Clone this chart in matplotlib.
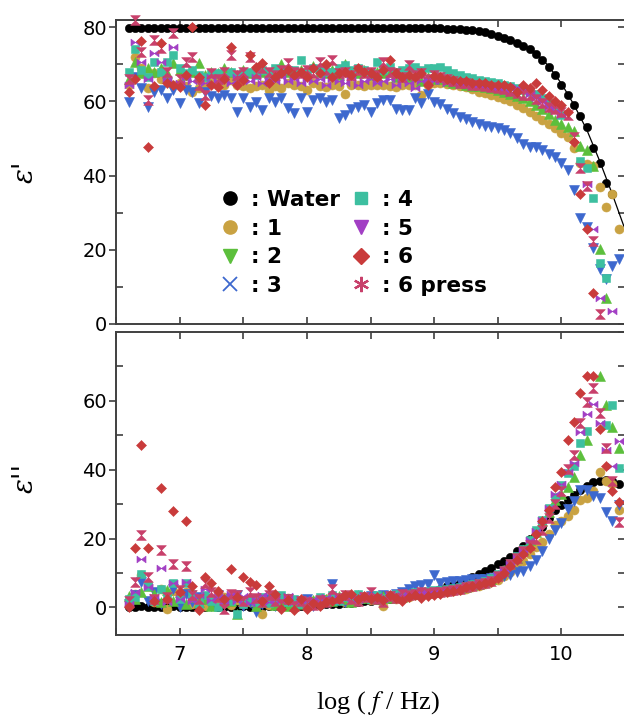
import numpy as np
import matplotlib
matplotlib.use("Agg")
import matplotlib.pyplot as plt
from matplotlib.lines import Line2D
from matplotlib.path import Path

plt.rcParams["font.family"] = ["DejaVu Sans"]
plt.rcParams["mathtext.fontset"] = "stix"

nan = np.nan

# ---------------------------------------------------------
# data, log f grid shared by all samples
# ---------------------------------------------------------
log_f = [6.60, 6.65, 6.70, 6.75, 6.80, 6.85, 6.90, 6.95, 7.00, 7.05,
         7.10, 7.15, 7.20, 7.25, 7.30, 7.35, 7.40, 7.45, 7.50, 7.55,
         7.60, 7.65, 7.70, 7.75, 7.80, 7.85, 7.90, 7.95, 8.00, 8.05,
         8.10, 8.15, 8.20, 8.25, 8.30, 8.35, 8.40, 8.45, 8.50, 8.55,
         8.60, 8.65, 8.70, 8.75, 8.80, 8.85, 8.90, 8.95, 9.00, 9.05,
         9.10, 9.15, 9.20, 9.25, 9.30, 9.35, 9.40, 9.45, 9.50, 9.55,
         9.60, 9.65, 9.70, 9.75, 9.80, 9.85, 9.90, 9.95, 10.00, 10.05,
         10.10, 10.15, 10.20, 10.25, 10.30, 10.35, 10.40, 10.45]

# eps' (top panel)
eps1_water = [79.8, 79.7, 79.8, 79.8, 79.7, 79.8, 79.8, 79.7, 79.8, 79.8,
              79.7, 79.8, 79.8, 79.7, 79.8, 79.8, 79.7, 79.8, 79.8, 79.7,
              79.8, 79.8, 79.7, 79.8, 79.8, 79.7, 79.8, 79.8, 79.7, 79.8,
              79.8, 79.7, 79.8, 79.8, 79.7, 79.8, 79.8, 79.7, 79.8, 79.8,
              79.7, 79.8, 79.8, 79.7, 79.8, 79.7, 79.7, 79.7, 79.7, 79.7,
              79.6, 79.5, 79.4, 79.3, 79.1, 78.9, 78.6, 78.2, 77.7, 77.1,
              76.5, 75.8, 75.0, 74.0, 72.8, 71.2, 69.3, 67.0, 64.3, 61.6,
              59.0, 56.0, 53.0, 47.3, 43.3, 38.0, 35.0, nan]
eps1_s1 = [64.5, 72.0, 69.0, 63.5, 67.5, 66.0, 65.7, 64.5, 65.0, 64.0,
           62.4, 63.5, 64.5, 65.0, 65.7, 64.5, 65.7, 64.5, 64.0, 63.5,
           64.0, 64.3, 63.0, 64.0, 63.5, 64.9, 64.3, 64.0, 63.0, 65.0,
           64.0, 63.8, 64.5, 64.0, 61.9, 64.3, 64.5, 64.0, 64.3, 64.5,
           64.3, 64.0, 63.8, 64.5, 64.3, 64.3, 61.6, 64.5, 64.9, 64.9,
           64.7, 64.4, 64.1, 63.8, 63.2, 62.6, 62.2, 61.8, 61.2, 60.6,
           60.1, 59.0, 58.2, 57.2, 56.0, 54.9, 53.8, 52.8, 51.4, 50.3,
           47.3, 43.5, 43.0, 42.7, 36.8, 31.4, 35.0, 25.7]
eps1_s2 = [66.0, 70.5, 67.5, 69.0, 68.0, 69.0, 67.5, 70.3, 68.5, 67.0,
           68.0, 70.3, 67.0, 68.0, 67.5, 69.0, 68.0, 67.0, 68.5, 67.5,
           69.0, 68.0, 67.5, 68.5, 70.0, 68.0, 67.5, 68.5, 68.0, 69.5,
           68.0, 67.5, 68.5, 67.0, 70.0, 68.0, 67.5, 68.5, 67.0, 68.0,
           67.5, 68.0, 66.5, 67.5, 66.5, 67.0, 65.5, 66.5, 66.0, 66.0,
           65.5, 65.0, 64.8, 64.5, 64.2, 64.0, 63.8, 63.5, 63.0, 62.6,
           62.0, 61.5, 60.8, 60.0, 59.0, 57.8, 56.5, 55.0, 54.0, 53.0,
           52.0, 48.0, 46.8, 42.7, 20.3, 7.0, nan, nan]
eps1_s3 = [59.7, 66.5, 63.5, 58.4, 62.4, 63.0, 60.8, 63.0, 59.5, 63.0,
           62.4, 59.5, 62.4, 61.5, 61.0, 61.6, 61.0, 57.0, 60.8, 58.4,
           59.7, 57.6, 60.8, 59.7, 60.8, 58.2, 56.8, 61.0, 57.0, 60.3,
           60.8, 59.7, 60.3, 55.4, 56.2, 58.0, 58.4, 59.0, 57.0, 59.5,
           60.3, 60.3, 58.0, 57.6, 57.6, 60.8, 59.5, 62.0, 59.7, 59.2,
           58.0, 56.9, 55.9, 55.2, 54.5, 53.8, 53.3, 53.0, 52.7, 52.2,
           51.4, 50.0, 48.6, 47.6, 47.6, 46.8, 45.9, 44.9, 43.5, 41.5,
           36.0, 28.6, 26.0, 20.5, 14.9, 12.2, 15.7, 17.6]
eps1_s4 = [68.0, 74.0, 68.5, 66.5, 70.5, 68.0, 70.5, 72.4, 69.0, 67.5,
           68.4, 67.0, 66.5, 67.5, 67.5, 66.5, 67.8, 67.0, 67.5, 68.0,
           67.0, 68.5, 67.5, 69.0, 68.0, 68.5, 68.5, 71.0, 68.0, 69.0,
           68.5, 68.0, 68.0, 69.0, 69.7, 68.5, 69.0, 68.5, 68.0, 70.5,
           68.5, 69.2, 68.0, 68.5, 69.0, 69.2, 68.5, 69.0, 69.0, 69.2,
           68.4, 67.6, 67.0, 66.6, 66.2, 65.8, 65.5, 65.2, 64.8, 64.4,
           64.0, 63.5, 63.0, 62.4, 62.0, 60.8, 59.5, 58.0, 56.2, nan,
           nan, 44.0, 42.0, 34.0, 16.5, 12.4, nan, nan]
eps1_s5 = [64.3, 76.0, 70.5, 66.0, 73.0, 70.5, 66.0, 74.6, 65.0, 66.5,
           65.5, 66.0, 65.0, 66.5, 65.5, 66.0, 65.0, 66.5, 66.0, 65.5,
           66.5, 65.0, 66.0, 65.5, 66.5, 65.5, 66.0, 65.0, 66.0, 65.5,
           66.0, 64.5, 66.0, 65.5, 65.0, 66.0, 64.5, 65.5, 66.0, 65.0,
           65.5, 66.0, 64.5, 65.5, 65.0, 63.5, 65.5, 66.0, 65.5, 65.5,
           65.0, 64.8, 64.5, 64.3, 64.0, 63.8, 63.8, 63.5, 63.2, 62.8,
           62.3, 63.8, 63.0, 62.0, 61.0, 59.7, 58.5, 57.5, 56.2, nan,
           nan, nan, 37.8, 25.7, 7.0, nan, 3.5, nan]
eps1_s6 = [62.4, 66.0, 76.2, 47.6, 64.0, 75.6, 65.0, 64.3, 63.8, 67.0,
           80.0, 66.5, 59.0, 64.3, 63.8, 66.0, 74.6, 64.3, 65.7, 72.4,
           69.2, 70.3, 65.0, 66.5, 67.5, 68.5, 67.0, 68.0, 66.5, 69.0,
           67.5, 70.0, 66.5, 67.5, 68.0, 67.0, 69.0, 68.0, 67.5, 66.5,
           68.5, 71.0, 67.5, 66.5, 67.0, 66.5, 67.5, 64.3, 66.8, 66.5,
           66.0, 65.8, 65.5, 65.5, 65.0, 65.0, 65.0, 64.5, 64.5, 64.3,
           63.8, 62.5, 64.3, 63.5, 65.0, 63.0, 61.5, 60.0, 59.0, 57.0,
           49.0, 35.0, 25.7, 8.4, nan, nan, nan, nan]
eps1_s6p = [66.0, 82.0, 73.2, 60.3, 76.5, 74.3, 68.0, 78.4, 66.0, 70.5,
            72.0, 64.3, 61.6, 67.6, 66.0, 68.0, 72.4, 67.0, 68.0, 72.0,
            67.5, 69.0, 68.0, 67.0, 68.5, 70.3, 68.0, 67.5, 68.5, 67.5,
            70.5, 68.5, 71.0, 67.5, 68.0, 67.0, 68.5, 67.5, 68.0, 67.0,
            70.5, 68.0, 67.5, 66.5, 69.7, 67.0, 67.5, 66.0, 67.0, 66.5,
            66.0, 65.5, 65.0, 64.8, 64.5, 64.3, 64.0, 63.8, 63.5, 63.2,
            62.8, 62.3, 61.8, 61.6, 60.5, 59.5, 58.5, 57.8, 57.0, 56.2,
            50.3, 42.0, 37.3, 22.4, 2.7, nan, nan, nan]

# Debye fit for water (only the tail is visible)
fit_logf = [6.6, 8.5, 9.0, 9.3, 9.5, 9.7, 9.8, 9.9, 10.0, 10.1, 10.2, 10.3, 10.4, 10.5]
fit_eps1 = [79.8, 79.8, 79.6, 79.0, 77.9, 75.3, 73.0, 69.5, 64.8, 59.0, 52.3, 44.0, 35.0, 25.5]

# eps'' (bottom panel)
eps2_water = [0.2, 0.0, 0.3, 0.1, 0.0, 0.2, 0.1, 0.3, 0.0, 0.2,
              0.1, 0.2, 0.0, 0.3, 0.1, 0.2, 0.2, 0.1, 0.3, 0.2,
              0.3, 0.2, 0.4, 0.3, 0.4, 0.4, 0.5, 0.5, 0.6, 0.7,
              0.8, 0.9, 1.0, 1.1, 1.3, 1.4, 1.6, 1.8, 2.0, 2.1,
              2.3, 2.5, 2.7, 3.0, 3.3, 3.6, 3.9, 4.3, 4.8, 5.4,
              6.1, 6.6, 7.2, 8.0, 8.9, 9.7, 10.6, 11.5, 12.5, 13.6,
              14.6, 16.4, 17.8, 20.0, 21.8, 23.3, 26.0, 28.4, 29.7, 31.3,
              32.6, 34.0, 35.3, 36.3, 36.6, 37.0, 36.6, 35.8]
eps2_s1 = [2.0, 4.0, 9.5, 6.6, 1.5, 5.5, -0.5, 4.8, 2.0, 4.5,
           1.0, 2.5, 0.5, 2.0, 1.2, 3.0, 0.8, 2.2, 1.0, 1.5,
           1.5, -1.9, 0.8, 2.0, 1.2, 2.8, 1.0, 1.8, 0.8, 2.0,
           1.2, 2.5, 1.8, 2.5, 1.5, 3.0, 2.0, 2.8, 2.2, 3.0,
           0.5, 3.0, 2.5, 3.2, 3.0, 3.5, 3.8, 4.0, 4.2, 4.4,
           4.6, 4.9, 5.2, 5.5, 5.9, 6.3, 6.8, 7.3, 8.0, 9.0,
           10.2, 11.8, 13.5, 15.5, 17.5, 19.0, 21.2, 23.9, 25.2, 26.5,
           28.4, 31.3, 31.8, 33.7, 39.3, 36.6, 35.8, 28.4]
eps2_s2 = [3.2, 2.5, 4.5, 6.1, 4.0, 1.5, 5.0, 2.0, 4.5, 1.0,
           3.0, 1.5, 2.5, 0.5, 3.5, 1.5, 2.0, -1.9, 1.8, 3.0,
           0.5, 1.5, 2.5, 0.8, 1.8, 0.5, 2.0, 1.0, 1.5, 2.2,
           1.8, 2.5, 2.0, 3.2, 2.5, 1.5, 3.5, 2.8, 3.0, 2.5,
           3.2, 2.8, 3.5, 3.0, 3.8, 4.0, 4.2, 4.5, 4.6, 4.8,
           5.0, 5.3, 5.6, 6.0, 6.4, 6.9, 7.5, 8.2, 9.3, 10.8,
           12.5, 14.5, 16.8, 19.5, 22.0, 25.0, 27.8, 31.3, 33.0, 35.0,
           38.0, 44.3, 48.5, nan, 67.1, 58.9, 52.5, 46.4]
eps2_s3 = [1.0, 3.5, 7.4, 2.0, 4.5, 1.0, 3.0, 5.3, 0.0, 4.0,
           1.5, 3.0, 2.5, 0.5, 3.5, 1.5, 2.5, 3.5, 0.5, 1.5,
           -1.3, 1.0, 2.5, 0.5, 1.8, 2.5, 0.8, 1.5, 2.5, 0.5,
           1.8, 2.0, 6.8, 2.5, 1.5, 3.0, 2.2, 2.8, 3.2, 2.5,
           3.5, 3.2, 4.0, 4.5, 5.5, 6.2, 6.5, 6.8, 9.3, 7.2,
           7.4, 7.6, 7.8, 8.0, 8.2, 8.3, 8.4, 8.6, 8.8, 9.0,
           9.3, 10.2, 10.6, 11.9, 13.8, 16.4, 19.9, 22.5, 24.4, 28.6,
           31.0, 34.0, 34.0, 32.4, 31.8, 27.8, 25.2, 29.7]
eps2_s4 = [2.5, 3.0, 9.8, 6.1, 2.0, 5.3, 3.0, 7.2, 2.5, 7.2,
           4.0, 1.0, 3.5, 2.0, 0.0, 2.5, 2.0, -1.9, 1.0, 2.5,
           1.5, 3.0, 1.2, 2.0, 3.5, 1.5, 2.5, 1.0, 2.0, 1.5,
           3.0, 2.2, 3.5, 2.0, 3.0, 2.5, 4.0, 3.0, 2.5, 3.5,
           2.8, 3.2, 3.8, 3.5, 4.0, 4.5, 4.3, 4.8, 5.0, 5.1,
           5.3, 5.6, 5.9, 6.2, 6.7, 7.2, 7.8, 8.5, 9.6, 11.0,
           12.8, 14.8, 17.0, 19.5, 22.5, 25.5, 29.0, 32.0, 35.5, 39.0,
           41.1, 47.7, 51.2, nan, nan, 53.0, 58.9, 40.6]
eps2_s5 = [1.0, 4.5, 14.0, 5.8, 3.0, 11.4, 1.5, 7.2, 2.5, 7.4,
           2.0, 3.5, 5.5, 2.1, 3.0, 1.5, 4.0, 2.0, 3.2, 1.2,
           2.5, 3.5, 1.5, 2.8, 1.8, 3.2, 1.5, 2.5, 1.8, 2.5,
           1.8, 3.0, 2.2, 3.5, 2.5, 3.0, 2.2, 3.5, 2.8, 3.2,
           2.5, 3.8, 3.2, 3.5, 4.5, 4.0, 4.4, 4.6, 4.8, 5.0,
           5.2, 5.5, 5.8, 6.1, 6.5, 7.0, 7.5, 8.2, 9.3, 10.8,
           12.6, 14.6, 16.8, 19.5, 22.2, 25.5, 29.0, 33.0, 36.0, 39.3,
           41.9, 50.9, 56.2, 59.0, 53.6, 45.6, 41.1, 48.3]
eps2_s6 = [0.0, 17.2, 47.2, 17.2, 1.9, 34.7, 2.6, 28.0, 4.5, 25.0,
           6.1, -0.8, 8.8, 7.2, 4.8, 2.5, 11.1, 3.0, 8.8, 7.4,
           6.6, 2.0, 6.1, 4.0, -0.5, 2.1, -0.8, 2.6, -0.5, 1.3,
           0.5, 1.5, 2.0, 2.6, 3.5, 4.0, 2.5, 3.2, 2.4, 3.0,
           2.2, 3.5, 2.8, 2.0, 3.0, 3.6, 2.8, 3.2, 3.6, 4.0,
           4.5, 4.8, 5.2, 5.8, 6.2, 6.6, 7.0, 7.4, 8.5, 10.0,
           11.9, 13.8, 15.4, 17.2, 21.2, 25.2, 28.4, 35.0, 39.3, 48.5,
           53.8, 62.3, 67.1, 67.1, 51.7, 41.1, 33.7, 30.5]
eps2_s6p = [2.0, 7.4, 21.0, 8.8, 2.5, 16.7, 3.0, 12.7, 5.0, 11.9,
            3.5, 2.5, 7.2, 4.5, 3.0, -0.5, 4.0, 3.5, 2.0, 4.5,
            2.8, 1.5, 3.5, 2.0, 1.0, 2.5, 0.5, 2.0, 1.5, 0.8,
            2.3, 1.5, 5.5, 2.8, 3.5, 2.5, 1.8, 3.0, 4.5, 2.5,
            1.5, 3.2, 2.8, 4.0, 3.5, 3.8, 4.5, 4.2, 4.5, 4.6,
            4.9, 5.2, 5.5, 5.9, 6.3, 6.8, 7.2, 7.8, 9.0, 10.5,
            12.5, 14.5, 16.5, 18.0, 20.0, 22.5, 26.0, 30.0, 33.7, 40.3,
            44.3, 53.6, 59.7, 63.7, 56.5, 46.4, 36.6, 24.7]

legend_labels = [": Water", ": 1", ": 2", ": 3", ": 4", ": 5", ": 6", ": 6 press"]

# ---------------------------------------------------------
# marker shapes
# ---------------------------------------------------------
hourglass = Path([(-1, 1), (1, 1), (-1, -1), (1, -1), (-1, 1)],
                 [Path.MOVETO, Path.LINETO, Path.LINETO, Path.LINETO, Path.CLOSEPOLY])
bowtie = Path([(-1, 0.75), (-1, -0.75), (1, 0.75), (1, -0.75), (-1, 0.75)],
              [Path.MOVETO, Path.LINETO, Path.LINETO, Path.LINETO, Path.CLOSEPOLY])

c_water = "black"
c1 = "#C9A242"
c2 = "#5CBF3C"
c3 = "#3D68CE"
c4 = "#3DBFA0"
c5 = "#A23FC4"
c6 = "#C93B3B"
c6p = "#C8406B"

# (values top, values bottom, marker, size, colour) in drawing order
series = [
    (eps1_water, eps2_water, "o", 6.0, c_water),
    (eps1_s1, eps2_s1, "o", 6.5, c1),
    (eps1_s3, eps2_s3, "v", 7.5, c3),
    (eps1_s2, eps2_s2, "^", 7.0, c2),
    (eps1_s4, eps2_s4, "s", 5.5, c4),
    (eps1_s5, eps2_s5, bowtie, 6.5, c5),
    (eps1_s6p, eps2_s6p, hourglass, 7.0, c6p),
    (eps1_s6, eps2_s6, "D", 5.5, c6),
]

# ---------------------------------------------------------
# plot
# ---------------------------------------------------------
W, H = 624, 720
fig = plt.figure(figsize=(W / 100, H / 100), dpi=100)
ax1 = fig.add_axes([116 / W, 1 - 324 / H, 509 / W, 304 / H])
ax2 = fig.add_axes([116 / W, 1 - 635 / H, 509 / W, 303 / H])

xmax = 6.6 + 509 / 130.67

ax1.plot(fit_logf, fit_eps1, color="black", lw=0.9, zorder=1)

for top, bot, mk, ms, col in series:
    ax1.plot(log_f, top, ls="none", marker=mk, ms=ms, mfc=col, mec=col, mew=0.4,
             clip_on=False, zorder=3)
    ax2.plot(log_f, bot, ls="none", marker=mk, ms=ms, mfc=col, mec=col, mew=0.4,
             clip_on=False, zorder=3)

ax1.set_ylim(0, 81.9)
ax2.set_ylim(-8, 72.5)

for ax in (ax1, ax2):
    ax.set_xlim(6.6, xmax)
    ax.set_xticks([7, 8, 9, 10])
    ax.set_xticks([6.5, 7.5, 8.5, 9.5, 10.5], minor=True)
    ax.set_yticks([0, 20, 40, 60, 80])
    ax.set_yticks([10, 30, 50, 70], minor=True)
    for sp in ax.spines.values():
        sp.set_color("#404040")
        sp.set_linewidth(1.4)
    ax.tick_params(axis="x", which="both", direction="in", top=True, bottom=True,
                   length=5, width=1.2, color="#404040", labelsize=14, pad=7)
    ax.tick_params(axis="y", which="major", direction="out", length=5, width=1.2,
                   color="#404040", labelsize=14, pad=1.5)
    ax.tick_params(axis="y", which="minor", direction="in", length=5, width=1.2,
                   color="#404040")
    sec = ax.secondary_yaxis("right")
    sec.set_yticks([0, 10, 20, 30, 40, 50, 60, 70, 80])
    sec.tick_params(direction="in", length=5, width=1.2, color="#404040", labelright=False)
    sec.spines["right"].set_visible(False)

ax1.set_yticks([0, 20, 40, 60, 80])
ax2.set_yticks([0, 20, 40, 60])
ax1.tick_params(axis="x", labelbottom=False)

# axis labels
fig.text(25 / W, 1 - 172 / H, "ε'", rotation=90, ha="center", va="center",
         fontsize=20, family="DejaVu Serif", style="italic")
fig.text(25 / W, 1 - 478 / H, "ε''", rotation=90, ha="center", va="center",
         fontsize=20, family="DejaVu Serif", style="italic")
fig.text(378 / W, 1 - 703 / H, r"log ( $f$ / Hz)", ha="center", va="center",
         fontsize=19, family="Liberation Serif")

# legend (markers as printed in the original key)
handles = [
    Line2D([], [], ls="none", marker="o", ms=9.5, color=c_water),
    Line2D([], [], ls="none", marker="o", ms=9.5, color=c1),
    Line2D([], [], ls="none", marker="v", ms=10, color=c2),
    Line2D([], [], ls="none", marker="x", ms=10, mew=1.3, color=c3),
    Line2D([], [], ls="none", marker="s", ms=8.5, color=c4),
    Line2D([], [], ls="none", marker="v", ms=10, color=c5),
    Line2D([], [], ls="none", marker="D", ms=8, color=c6),
    Line2D([], [], ls="none", marker=(6, 2, 0), ms=11, mew=1.6, color=c6p),
]
ax1.legend(handles, legend_labels, ncol=2, loc="upper left",
           bbox_to_anchor=(219 / W, 1 - 190 / H), bbox_transform=fig.transFigure,
           frameon=False, borderpad=0, borderaxespad=0, handlelength=1.0,
           handletextpad=0.5, columnspacing=0.45, labelspacing=0.4,
           prop=dict(family="DejaVu Sans", weight="bold", size=15.5))

fig.savefig("out.png", dpi=100)
